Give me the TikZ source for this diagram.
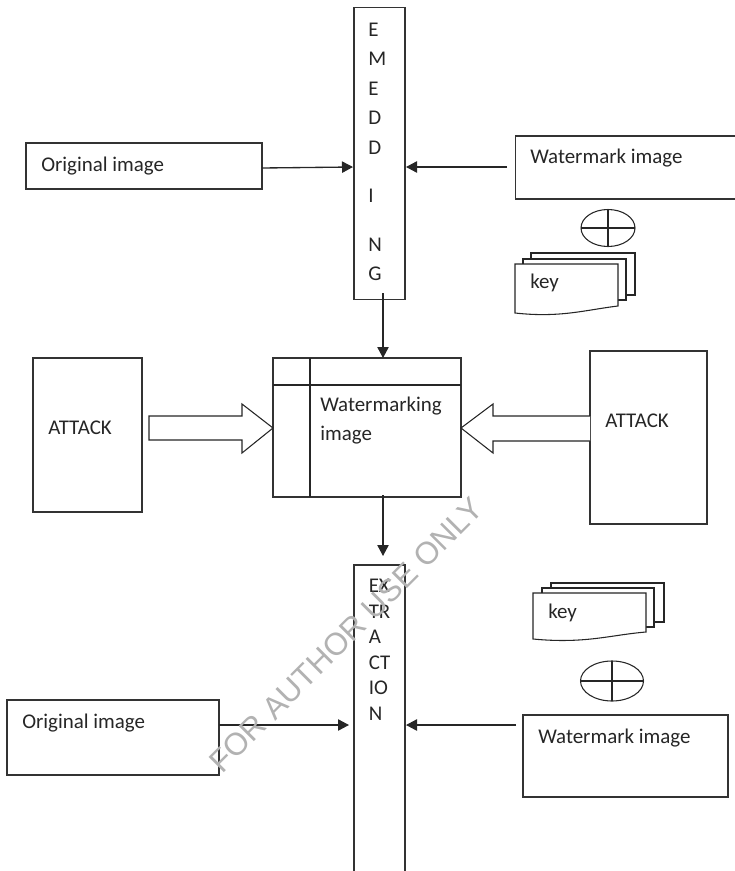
\documentclass[tikz,border=0pt]{standalone}
\usepackage{fontspec}
\setmainfont{Carlito}
\newfontfamily\wmfont{Liberation Sans}
\usetikzlibrary{arrows.meta}
\tikzset{
 x=0.75pt,y=-0.75pt,
 box/.style={draw=black!80,line width=0.9pt,fill=white},
 thin box/.style={draw=black!85,line width=0.8pt},
 lbl/.style={font=\fontsize{15.7}{18}\selectfont,text=black!85,anchor=base west,inner sep=0pt},
 flow/.style={draw=black!85,line width=1pt,-{Triangle[length=8.25pt,width=8.5pt]}},
 fat/.style={draw=black!85,line width=0.8pt,fill=white,line join=miter},
}
\begin{document}
\begin{tikzpicture}
\useasboundingbox (0,0) rectangle (735,871);
% boxes
\node[box,minimum width=38.25pt,minimum height=219pt,inner sep=0pt] (emb) at (379.5,153.5) {};
\node[box,minimum width=177pt,minimum height=34.5pt,inner sep=0pt] (orig1) at (144,166) {};
\node[box,minimum width=165.5pt,minimum height=47.25pt,inner sep=0pt] (wm1) at (625.5,167.5) {};
\node[box,minimum width=141pt,minimum height=104.25pt,inner sep=0pt] (ctr) at (367,427.5) {};
\node[box,minimum width=81.75pt,minimum height=115.5pt,inner sep=0pt] (atk1) at (87.5,435) {};
\node[box,minimum width=87.75pt,minimum height=129.75pt,inner sep=0pt] (atk2) at (648.5,437.5) {};
\node[box,minimum width=159pt,minimum height=56.25pt,inner sep=0pt] (orig2) at (113,737.5) {};
\node[box,minimum width=153.75pt,minimum height=61.5pt,inner sep=0pt] (wm2) at (625.5,756) {};
\draw[box,fill=none] (354,871) -- (354,565) -- (405,565) -- (405,871);
% connector ends
\coordinate (embL) at (353,167);
\coordinate (embR) at (406,167);
\coordinate (wm1out) at (507,167);
\coordinate (embOut) at (383,293);
\coordinate (ctrIn) at (383,358);
\coordinate (ctrOut) at (383,495);
\coordinate (extIn) at (383,556);
\coordinate (extL) at (349,725);
\coordinate (extR) at (406,725);
\coordinate (wm2out) at (516,725);
\coordinate (o1out) at (262,168);
\coordinate (o2out) at (219,725);
% centre box rules
\draw[thin box] (310,358) -- (310,497) (273,385) -- (461,385);
% fat arrows
\draw[fat] (149,416) -- (242,416) -- (242,404) -- (273,428) -- (242,453) -- (242,440) -- (149,440) -- cycle;
\draw[fat] (590,416) -- (493,416) -- (493,404) -- (461,428) -- (493,453) -- (493,441) -- (590,441);
% arrows
\draw[flow] (o1out) -- (embL);
\draw[flow] (wm1out) -- (embR);
\draw[flow] (embOut) -- (ctrIn);
\draw[flow] (ctrOut) -- (extIn);
\draw[flow] (o2out) -- (extL);
\draw[flow] (wm2out) -- (extR);
% ellipses
\draw[thin box] (608,228) ellipse [x radius=27,y radius=18.5];
\draw[thin box] (581,228) -- (635,228) (608,209.5) -- (608,246.5);
\draw[thin box] (612,681) ellipse [x radius=31.5,y radius=20];
\draw[thin box] (580.5,681) -- (643.5,681) (612,661) -- (612,701);
% key stacks
\draw[thin box,fill=white] (531,253) rectangle (635,295);
\draw[thin box,fill=white] (523,259) rectangle (626,300);
\draw[thin box,fill=white] (515,264) -- (618,264) -- (618,306) .. controls (585,310) and (560,318) .. (515,313) -- cycle;
\draw[thin box,fill=white] (551,583) rectangle (664,622);
\draw[thin box,fill=white] (542,588) rectangle (654,627);
\draw[thin box,fill=white] (533,593) -- (646,593) -- (646,632) .. controls (610,635) and (585,644) .. (533,639) -- cycle;
% labels
\foreach \t/\y in {E/36,M/65,E/95,D/124,D/154,I/202,N/251,G/280}
  \node[lbl] at (368,\y) {\t};
\foreach \t/\y in {EX/592,TR/618,A/643,CT/669,IO/694,N/720}
  \node[lbl] at (368.5,\y) {\t};
\node[lbl] at (41,171) {Original image};
\node[lbl] at (530,163) {Watermark image};
\node[lbl] at (530,288) {key};
\node[lbl] at (548,618) {key};
\node[lbl] at (320,411) {Watermarking};
\node[lbl] at (320,440) {image};
\node[lbl] at (48,434) {ATTACK};
\node[lbl] at (605,427) {ATTACK};
\node[lbl] at (22,728) {Original image};
\node[lbl] at (538,743) {Watermark image};
% watermark
\node[rotate=45,text=black!30,font=\wmfont\fontsize{23.5}{24}\selectfont,inner sep=0pt] (wmk) at (346,635) {FOR AUTHOR USE ONLY};
\end{tikzpicture}
\end{document}
